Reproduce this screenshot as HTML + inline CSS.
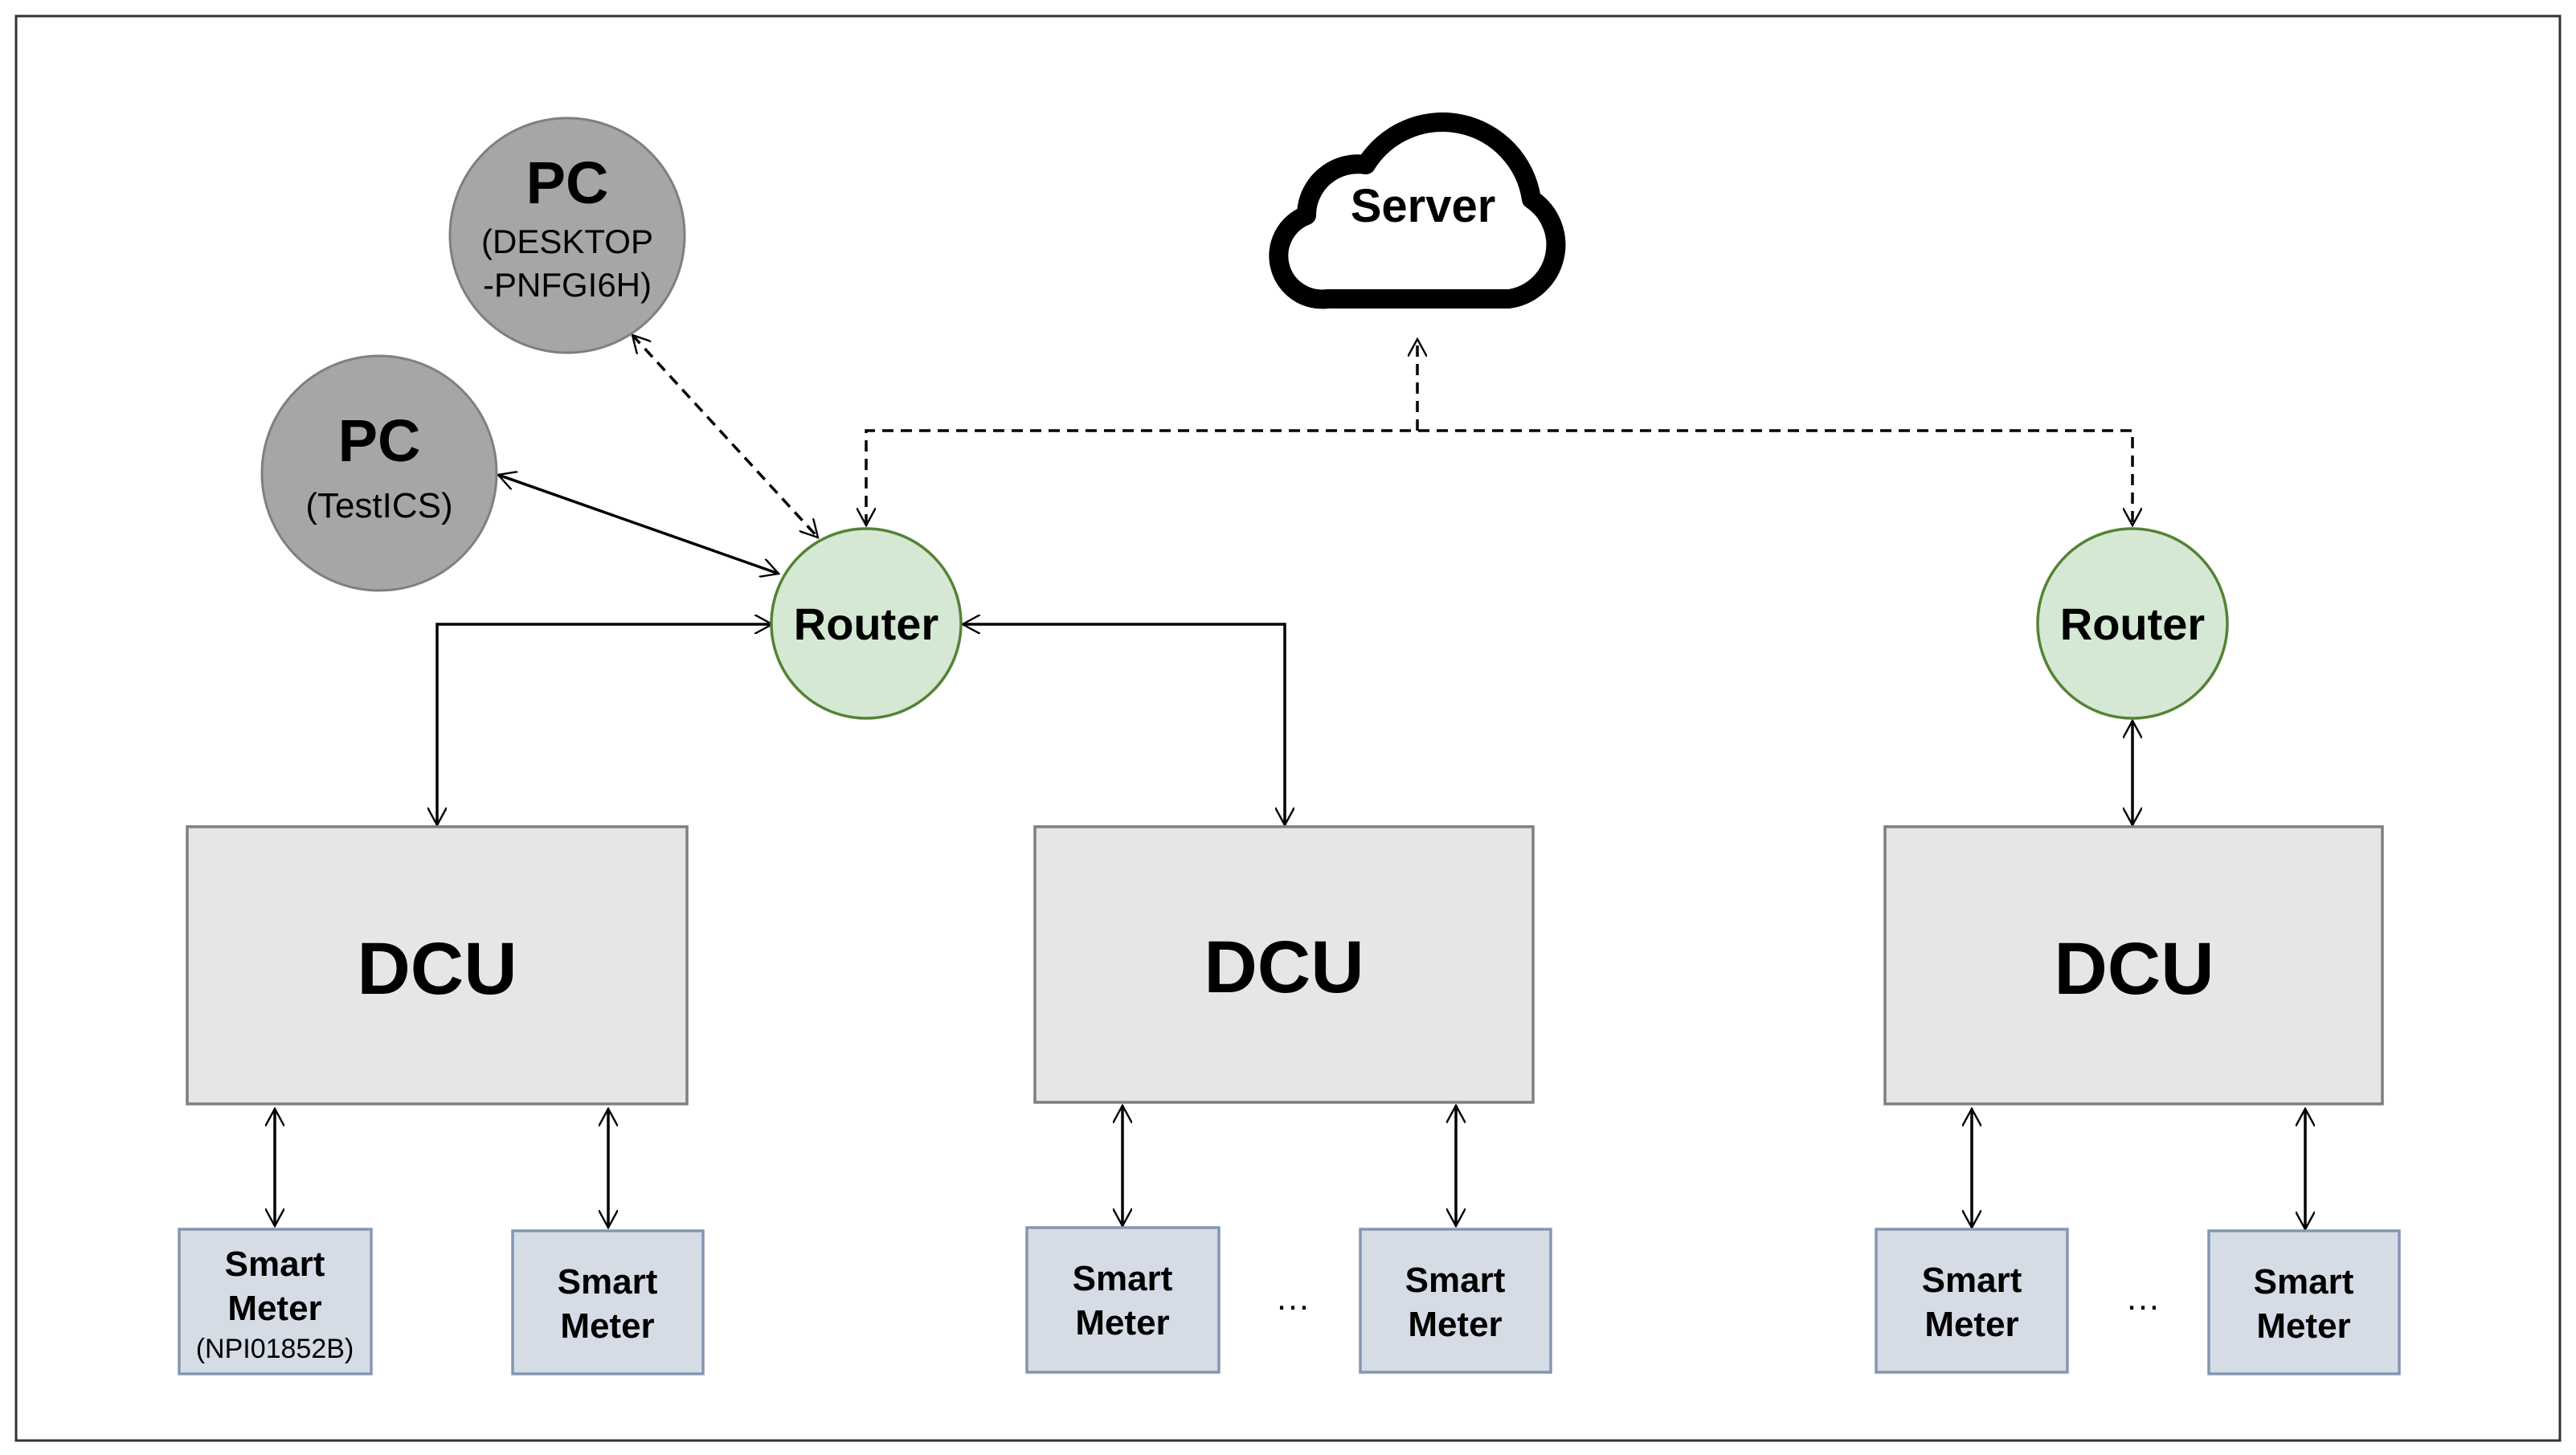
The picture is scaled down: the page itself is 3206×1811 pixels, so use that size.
<!DOCTYPE html>
<html><head><meta charset="utf-8"><style>
html,body{margin:0;padding:0;background:#fff;}
svg{display:block;}
text{font-family:"Liberation Sans",sans-serif;font-weight:bold;fill:#000;text-anchor:middle;}
.s{font-weight:normal;}
</style></head><body>
<svg width="3206" height="1811" viewBox="0 0 3206 1811" xmlns="http://www.w3.org/2000/svg">
<defs>
<marker id="b" viewBox="0 0 12 12" refX="11" refY="6" markerWidth="24" markerHeight="24" markerUnits="userSpaceOnUse" orient="auto-start-reverse">
<path d="M0,0 L11,6 L0,12" fill="none" stroke="#000" stroke-width="1.2"/>
</marker>
</defs>
<rect x="20" y="20" width="3166" height="1773" fill="#fff" stroke="#333" stroke-width="3"/>

<!-- cloud -->
<path d="M1652,372 H1878 A68,68 0 0 0 1906,248 A112,112 0 0 0 1700,205 A64,64 0 0 0 1626,268 A54,54 0 0 0 1652,372 Z" fill="#fff" stroke="#000" stroke-width="24" stroke-linejoin="round"/>
<text x="1771" y="276" font-size="58">Server</text>

<!-- dashed -->
<g fill="none" stroke="#000" stroke-width="3.5" stroke-dasharray="14,9">
<path d="M1764,536 V422" marker-end="url(#b)"/>
<path d="M1078,654 V536 H2654 V654" marker-start="url(#b)" marker-end="url(#b)"/>
<path d="M787,417 L1018,669" marker-start="url(#b)" marker-end="url(#b)"/>
</g>
<g fill="none" stroke="#000" stroke-width="3.5">
<path d="M620,591 L969,714" marker-start="url(#b)" marker-end="url(#b)"/>
<path d="M961,777 H544 V1027" marker-start="url(#b)" marker-end="url(#b)"/>
<path d="M1198,777 H1599 V1027" marker-start="url(#b)" marker-end="url(#b)"/>
<path d="M2654,897 V1027" marker-start="url(#b)" marker-end="url(#b)"/>
<path d="M342,1380 V1526" marker-start="url(#b)" marker-end="url(#b)"/>
<path d="M757,1380 V1528" marker-start="url(#b)" marker-end="url(#b)"/>
<path d="M1397,1376 V1526" marker-start="url(#b)" marker-end="url(#b)"/>
<path d="M1812,1376 V1526" marker-start="url(#b)" marker-end="url(#b)"/>
<path d="M2454,1380 V1528" marker-start="url(#b)" marker-end="url(#b)"/>
<path d="M2869,1380 V1530" marker-start="url(#b)" marker-end="url(#b)"/>
</g>

<!-- PCs -->
<circle cx="706" cy="293" r="146" fill="#a6a6a6" stroke="#7f7f7f" stroke-width="3"/>
<text x="706" y="253" font-size="74">PC</text>
<text class="s" x="706" y="315" font-size="42">(DESKTOP</text>
<text class="s" x="706" y="369" font-size="42">-PNFGI6H)</text>
<circle cx="472" cy="589" r="146" fill="#a6a6a6" stroke="#7f7f7f" stroke-width="3"/>
<text x="472" y="574" font-size="74">PC</text>
<text class="s" x="472" y="644" font-size="44">(TestICS)</text>

<!-- routers -->
<circle cx="1078" cy="776" r="118" fill="#d5e8d4" stroke="#548235" stroke-width="3.5"/>
<text x="1078" y="796" font-size="56">Router</text>
<circle cx="2654" cy="776" r="118" fill="#d5e8d4" stroke="#548235" stroke-width="3.5"/>
<text x="2654" y="796" font-size="56">Router</text>

<!-- DCUs -->
<g fill="#e7e6e6" stroke="#7f7f7f" stroke-width="3.5">
<rect x="233" y="1029" width="622" height="345"/>
<rect x="1288" y="1029" width="620" height="343"/>
<rect x="2346" y="1029" width="619" height="345"/>
</g>
<text x="544" y="1237" font-size="92">DCU</text>
<text x="1598" y="1235" font-size="92">DCU</text>
<text x="2656" y="1237" font-size="92">DCU</text>

<!-- meters -->
<g fill="#d6dce5" stroke="#8497b0" stroke-width="3.5">
<rect x="223" y="1530" width="239" height="180"/>
<rect x="638" y="1532" width="237" height="178"/>
<rect x="1278" y="1528" width="239" height="180"/>
<rect x="1693" y="1530" width="237" height="178"/>
<rect x="2335" y="1530" width="238" height="178"/>
<rect x="2749" y="1532" width="237" height="178"/>
</g>
<g font-size="44">
<text x="342" y="1588">Smart</text><text x="342" y="1643">Meter</text>
<text class="s" x="342" y="1690" font-size="34">(NPI01852B)</text>
<text x="756" y="1610">Smart</text><text x="756" y="1665">Meter</text>
<text x="1397" y="1606">Smart</text><text x="1397" y="1661">Meter</text>
<text x="1811" y="1608">Smart</text><text x="1811" y="1663">Meter</text>
<text x="2454" y="1608">Smart</text><text x="2454" y="1663">Meter</text>
<text x="2867" y="1610">Smart</text><text x="2867" y="1665">Meter</text>
</g>
<text class="s" x="1609" y="1630" font-size="44">…</text>
<text class="s" x="2667" y="1630" font-size="44">…</text>
</svg>
</body></html>
